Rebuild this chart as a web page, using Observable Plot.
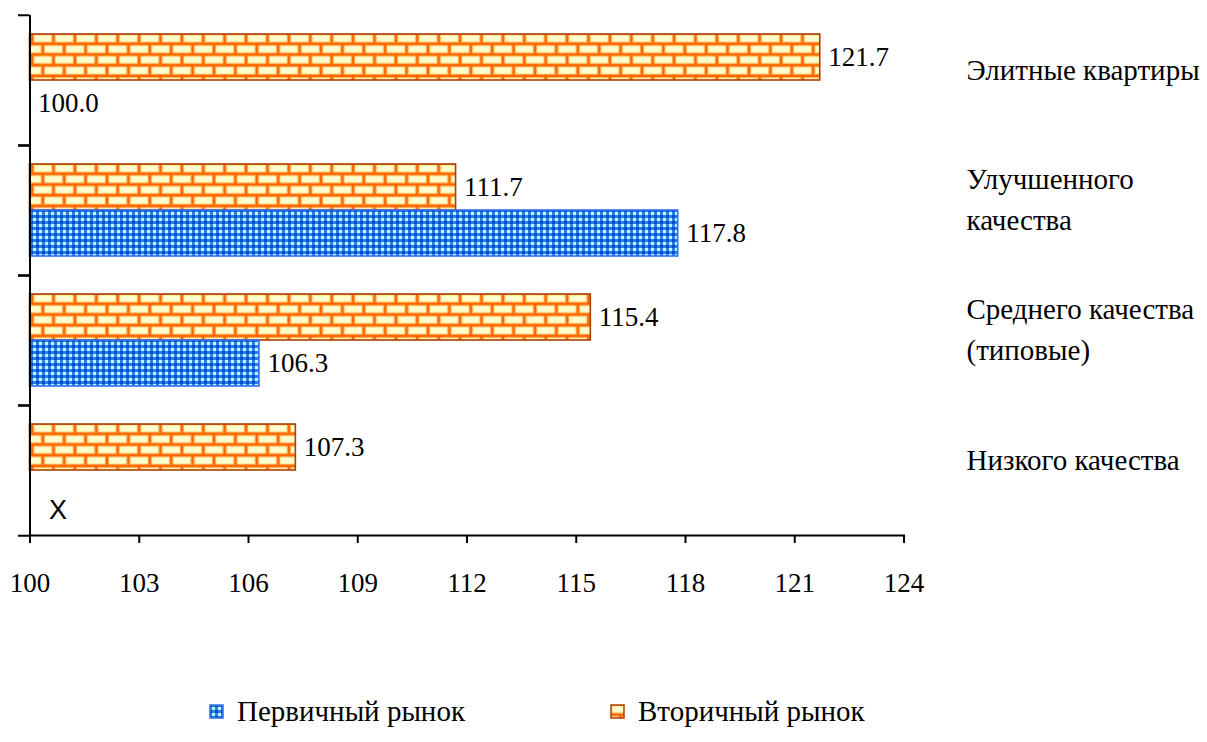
<!DOCTYPE html>
<html><head><meta charset="utf-8">
<script src="https://cdn.jsdelivr.net/npm/d3@7"></script>
<script src="https://cdn.jsdelivr.net/npm/@observablehq/plot@0.6"></script>
<style>
html,body{margin:0;padding:0;background:#fff;}
</style></head><body>
<div id="chart"></div>
<div id="legend" style="position:relative;height:62px;font-size:29px;font-family:'Liberation Serif'"></div>
<script>
const categories = ["Элитные квартиры", "Улучшенного качества", "Среднего качества (типовые)", "Низкого качества"];
const categoryLabels = ["Элитные квартиры", "Улучшенного\nкачества", "Среднего качества\n(типовые)", "Низкого качества"];
const seriesNames = ["Вторичный рынок", "Первичный рынок"];
const primaryValues = [100.0, 117.8, 106.3, null];
const secondaryValues = [121.7, 111.7, 115.4, 107.3];
const xTicks = [100, 103, 106, 109, 112, 115, 118, 121, 124];
const xDomain = [100, 124];
const baseline = 100;
const missingMark = "X";
const legendOrder = ["Первичный рынок", "Вторичный рынок"];

const rows = [];
categories.forEach((c, i) => {
  rows.push({category: c, series: seriesNames[0], value: secondaryValues[i]});
  rows.push({category: c, series: seriesNames[1], value: primaryValues[i]});
});
const labelOf = new Map(categories.map((c, i) => [c, categoryLabels[i]]));
const secRows = rows.filter(d => d.series === seriesNames[0] && d.value != null && d.value > baseline);
const priRows = rows.filter(d => d.series === seriesNames[1] && d.value != null && d.value > baseline);
const valRows = rows.filter(d => d.value != null);
const missRows = rows.filter(d => d.value == null);

const SERIF = "Liberation Serif";
const FS = 27;
const facetH = (680 - 144 - 14) / categories.length;

const plot = Plot.plot({
  width: 1207,
  height: 680,
  marginLeft: 29.5,
  marginRight: 303.5,
  marginTop: 14,
  marginBottom: 144,
  style: {fontFamily: "serif", fontSize: FS + "px"},
  x: {domain: xDomain, axis: null},
  fy: {domain: categories, padding: 0, axis: null},
  y: {domain: seriesNames, paddingInner: 0, paddingOuter: 0.388, axis: null},
  marks: [
    Plot.barX(secRows, {fy: "category", y: "series", x1: () => baseline, x2: "value", fill: "url(#brick)", stroke: "#A84000", strokeWidth: 1.6}),
    Plot.barX(priRows, {fy: "category", y: "series", x1: () => baseline, x2: "value", fill: "url(#checker)", stroke: "#3470F0", strokeWidth: 1.6}),
    Plot.text(valRows, {fy: "category", y: "series", x: "value", text: d => d.value.toFixed(1), textAnchor: "start", dx: 8, fill: "#000", fontFamily: SERIF}),
    Plot.text(missRows, {fy: "category", y: "series", x: () => baseline, text: () => missingMark, textAnchor: "start", dx: 19, dy: 17, fontSize: 27, fill: "#000", fontFamily: "Liberation Sans"}),
    Plot.ruleX([baseline], {stroke: "#000", strokeWidth: 2}),
    Plot.frame({anchor: "bottom", facetAnchor: "bottom", stroke: "#000", strokeWidth: 2}),
    Plot.axisX({ticks: xTicks, tickSize: 8, tickPadding: 29.5, strokeWidth: 2, tickFormat: d => String(d), label: null, fontFamily: SERIF}),
    Plot.axisFy({anchor: "left", tickSize: 11.5, strokeWidth: 2, fill: "none", dy: -facetH / 2, label: null}),
    Plot.axisFy({anchor: "left", tickSize: 11.5, strokeWidth: 2, fill: "none", dy: facetH / 2, label: null}),
    Plot.axisFy({anchor: "right", tickSize: 0, tickPadding: 62.5, textAnchor: "start", tickFormat: c => labelOf.get(c), lineHeight: 1.41, fontSize: 29, dy: -14, label: null, fontFamily: SERIF})
  ]
});
document.getElementById("chart").appendChild(plot);

const legend = document.getElementById("legend");
const legendStyle = {
  "Первичный рынок": {fill: "url(#checker)", stroke: "#3470F0", left: 209},
  "Вторичный рынок": {fill: "url(#brick)", stroke: "#A84000", left: 610}
};
legendOrder.forEach(name => {
  const s = legendStyle[name];
  const item = document.createElement("div");
  item.style.cssText = `position:absolute;top:14px;left:${s.left}px;display:flex;align-items:center;height:34px;white-space:nowrap;`;
  item.innerHTML = `<svg width="15" height="15" style="margin-right:13px"><rect x="1" y="1" width="13" height="13" fill="${s.fill}" stroke="${s.stroke}" stroke-width="1.5"/></svg><span style="font-family:'Liberation Serif'">${name}</span>`;
  legend.appendChild(item);
});

const NS = "http://www.w3.org/2000/svg";
const defsHost = document.createElementNS(NS, "svg");
defsHost.setAttribute("width", "0");
defsHost.setAttribute("height", "0");
defsHost.style.position = "absolute";
defsHost.innerHTML = `<defs>
    <pattern id="brick" patternUnits="userSpaceOnUse" width="21.4" height="21.4">
      <rect width="21.4" height="21.4" fill="#FF6600"/>
      <g fill="#FFB860">
        <rect x="1.2" y="1.2" width="19" height="8.3"/>
        <rect x="-9.5" y="11.9" width="19" height="8.3"/>
        <rect x="11.9" y="11.9" width="19" height="8.3"/>
      </g>
      <g fill="#FFFFCC">
        <rect x="2.2" y="2.2" width="17" height="6.3"/>
        <rect x="-8.5" y="12.9" width="17" height="6.3"/>
        <rect x="12.9" y="12.9" width="17" height="6.3"/>
      </g>
    </pattern>
    <pattern id="checker" patternUnits="userSpaceOnUse" width="6" height="6">
      <rect width="6" height="6" fill="#2A80E4"/>
      <rect width="3" height="3" fill="#0052C4"/>
      <rect x="3" y="3" width="3" height="3" fill="#C0F6FF"/>
    </pattern>
  </defs>`;
document.body.appendChild(defsHost);
</script>
</body></html>
